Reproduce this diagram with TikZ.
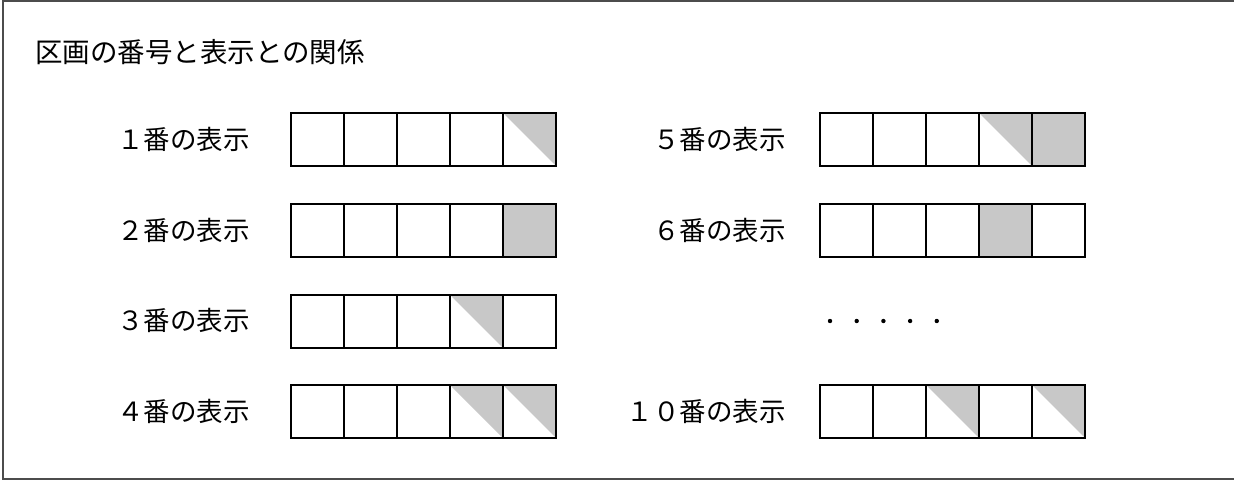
\documentclass[tikz,border=0pt]{standalone}
\usepackage{fontspec}
\newfontfamily\jp{Noto Sans CJK JP}
\definecolor{shadegray}{HTML}{C8C8C8}
\tikzset{
  cellbox/.style={draw=black, line width=1.6pt, minimum size=53pt, inner sep=0pt, anchor=north west},
  fullcell/.style={cellbox, fill=shadegray},
  lbl/.style={font=\jp\fontsize{26.5}{30}\selectfont, anchor=east, inner sep=0pt},
  halffill/.style={fill=shadegray},
}
% #1 name, #2 x, #3 y (top-left)
\newcommand\halftri[3]{\fill[halffill] (#2,#3) -- ++(53,0) -- ++(0,53) -- cycle;}
\begin{document}
\begin{tikzpicture}[x=1pt,y=-1pt]
\useasboundingbox (0,0) rectangle (1234,482);
\draw[line width=1.1pt, black!70] (1234,1) -- (3,1) -- (3,479) -- (1234,479);
\node[font=\jp\fontsize{27.5}{32}\selectfont, anchor=west, inner sep=0pt] (title) at (35,52) {区画の番号と表示との関係};

% labels
\node[lbl] (l1) at (250,139) {１番の表示};
\node[lbl] (l2) at (250,230) {２番の表示};
\node[lbl] (l3) at (250,320) {３番の表示};
\node[lbl] (l4) at (250,411) {４番の表示};
\node[lbl] (l5) at (786,139) {５番の表示};
\node[lbl] (l6) at (786,230) {６番の表示};
\node[lbl] (l10) at (786,411) {１０番の表示};

% half-shaded triangles
\halftri{a15}{502}{112}
\halftri{a34}{449}{294}
\halftri{a44}{449}{384}
\halftri{a45}{502}{384}
\halftri{b14}{978}{112}
\halftri{b43}{925}{384}
\halftri{b45}{1031}{384}

% left column rows
\foreach \r/\y/\f in {1/112/0, 2/203/5, 3/294/0, 4/384/0}{
  \foreach \c in {1,...,5}{
    \ifnum\c=\f
      \node[fullcell] (a\r\c) at ({290+53*(\c-1)},\y) {};
    \else
      \node[cellbox] (a\r\c) at ({290+53*(\c-1)},\y) {};
    \fi
  }
}
% right column rows
\foreach \r/\y/\f in {1/112/5, 2/203/4, 4/384/0}{
  \foreach \c in {1,...,5}{
    \ifnum\c=\f
      \node[fullcell] (b\r\c) at ({819+53*(\c-1)},\y) {};
    \else
      \node[cellbox] (b\r\c) at ({819+53*(\c-1)},\y) {};
    \fi
  }
}

% dots
\foreach \i in {0,...,4}{
  \fill ({830+26.7*\i},321) circle (2.2);
}
\end{tikzpicture}
\end{document}
